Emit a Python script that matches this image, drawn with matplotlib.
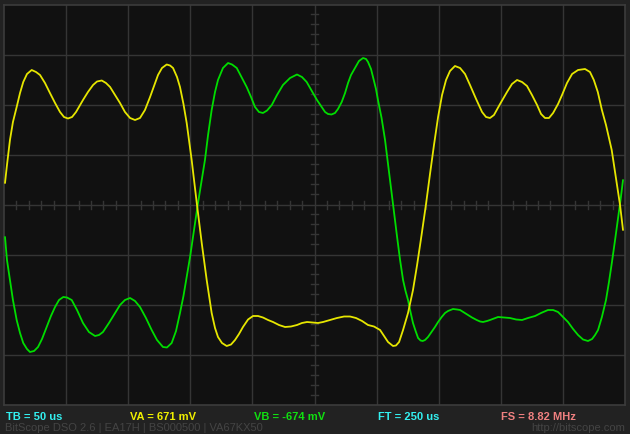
import matplotlib.pyplot as plt
import numpy as np

# ---- trace data (time in us, amplitude in divisions) ----
ya_t = [0.8, 2.4, 4.8, 7.2, 10.2, 12.9, 15.5, 18.5, 22.3, 25.8,
        29.0, 33.0, 37.0, 41.1, 45.1, 48.3, 51.5, 54.8, 58.0, 63.6,
        67.6, 71.7, 74.9, 78.7, 82.1, 85.4, 89.4, 93.4, 97.4, 101.5,
        105.5, 109.5, 113.5, 117.6, 120.8, 124.0, 127.2, 131.0, 133.7, 136.1,
        139.3, 141.7, 144.5, 147.1, 151.1, 155.2, 159.2, 163.2, 167.2, 169.9,
        172.3, 175.5, 179.3, 182.8, 186.0, 189.2, 192.4, 196.5, 200.5, 204.5,
        208.5, 212.6, 216.6, 221.4, 226.3, 231.1, 235.9, 239.9, 244.0, 248.0,
        252.8, 256.9, 262.5, 268.1, 273.8, 278.6, 283.4, 288.3, 293.1, 297.9,
        302.8, 306.0, 309.2, 313.2, 315.6, 318.1, 321.3, 325.3, 329.3, 332.6,
        336.2, 339.8, 343.0, 346.2, 349.5, 352.7, 355.9, 359.1, 363.1, 367.2,
        371.2, 375.2, 380.1, 384.9, 388.1, 391.3, 394.5, 399.4, 405.0, 409.0,
        413.1, 417.1, 421.1, 425.1, 429.2, 432.4, 435.6, 438.8, 442.1, 446.1,
        449.3, 453.3, 457.4, 462.2, 467.8, 471.8, 474.9, 478.1, 481.4, 484.7,
        487.1, 489.3, 492.7, 496.0, 498.4]
ya_v = [0.43, 0.79, 1.29, 1.65, 1.95, 2.23, 2.45, 2.61, 2.69, 2.65,
        2.59, 2.43, 2.23, 2.03, 1.85, 1.75, 1.72, 1.75, 1.85, 2.09,
        2.25, 2.39, 2.46, 2.48, 2.43, 2.35, 2.19, 2.03, 1.85, 1.73,
        1.69, 1.73, 1.89, 2.15, 2.37, 2.59, 2.73, 2.80, 2.78, 2.73,
        2.55, 2.35, 2.01, 1.63, 0.89, 0.03, -0.77, -1.51, -2.17, -2.47,
        -2.65, -2.77, -2.83, -2.80, -2.71, -2.59, -2.45, -2.30, -2.23, -2.23,
        -2.26, -2.31, -2.35, -2.41, -2.45, -2.44, -2.41, -2.37, -2.35, -2.36,
        -2.37, -2.35, -2.31, -2.27, -2.24, -2.24, -2.27, -2.33, -2.41, -2.44,
        -2.51, -2.63, -2.75, -2.83, -2.82, -2.75, -2.51, -2.17, -1.71, -1.21,
        -0.61, 0.01, 0.61, 1.19, 1.75, 2.19, 2.49, 2.67, 2.77, 2.73,
        2.61, 2.39, 2.11, 1.85, 1.75, 1.73, 1.79, 2.01, 2.25, 2.41,
        2.49, 2.45, 2.37, 2.19, 1.99, 1.81, 1.73, 1.73, 1.83, 2.01,
        2.19, 2.43, 2.61, 2.69, 2.71, 2.65, 2.49, 2.25, 1.89, 1.59,
        1.33, 1.09, 0.53, -0.01, -0.51]

yb_t = [0.8, 2.4, 4.8, 7.2, 10.2, 12.9, 15.5, 18.5, 20.9, 24.2,
        27.4, 30.6, 34.4, 37.8, 41.1, 44.3, 47.7, 50.7, 54.5, 58.8,
        63.6, 68.4, 73.3, 76.5, 79.7, 84.5, 89.4, 93.4, 97.4, 101.5,
        105.5, 109.5, 114.3, 118.9, 123.2, 128.0, 131.2, 135.0, 138.5, 141.7,
        144.5, 147.1, 149.8, 152.2, 156.2, 161.8, 164.3, 167.2, 169.9, 172.3,
        176.3, 180.4, 183.6, 187.4, 190.8, 195.4, 198.9, 202.1, 205.3, 208.5,
        211.8, 215.6, 219.8, 224.6, 230.3, 235.9, 239.9, 243.7, 248.8, 252.0,
        255.8, 258.5, 260.9, 263.7, 266.5, 268.9, 271.9, 274.6, 277.0, 279.4,
        282.6, 285.8, 289.1, 291.5, 293.1, 295.5, 297.1, 299.5, 301.1, 304.0,
        306.8, 310.0, 313.2, 316.4, 318.9, 321.3, 323.3, 325.3, 327.3, 329.3,
        331.4, 333.4, 335.4, 337.1, 339.0, 341.4, 344.2, 347.0, 349.5, 352.4,
        355.1, 357.5, 361.5, 364.8, 367.2, 370.4, 373.6, 376.8, 380.6, 383.3,
        385.7, 388.9, 391.3, 394.5, 397.8, 402.6, 407.4, 412.3, 417.1, 421.9,
        427.6, 432.4, 438.0, 442.1, 446.1, 450.1, 454.1, 458.2, 462.2, 466.2,
        470.2, 473.5, 475.9, 478.3, 481.4, 484.7, 487.1, 489.5, 492.0, 494.4,
        496.4, 498.4]
yb_v = [-0.65, -1.11, -1.51, -1.91, -2.31, -2.57, -2.77, -2.89, -2.95, -2.93,
        -2.85, -2.69, -2.45, -2.23, -2.05, -1.91, -1.85, -1.86, -1.91, -2.11,
        -2.37, -2.55, -2.63, -2.61, -2.55, -2.37, -2.17, -2.01, -1.91, -1.87,
        -1.93, -2.05, -2.27, -2.51, -2.71, -2.85, -2.86, -2.77, -2.53, -2.17,
        -1.83, -1.45, -1.05, -0.65, 0.03, 0.89, 1.39, 1.89, 2.25, 2.49,
        2.73, 2.83, 2.80, 2.73, 2.57, 2.35, 2.15, 1.95, 1.85, 1.83,
        1.88, 1.99, 2.19, 2.39, 2.53, 2.60, 2.55, 2.45, 2.23, 2.09,
        1.95, 1.85, 1.81, 1.80, 1.83, 1.91, 2.05, 2.23, 2.43, 2.59,
        2.73, 2.87, 2.93, 2.91, 2.85, 2.71, 2.55, 2.31, 2.09, 1.73,
        1.29, 0.65, 0.01, -0.63, -1.11, -1.51, -1.73, -1.91, -2.15, -2.37,
        -2.53, -2.67, -2.72, -2.73, -2.71, -2.65, -2.55, -2.45, -2.35, -2.25,
        -2.17, -2.13, -2.09, -2.10, -2.11, -2.16, -2.21, -2.26, -2.31, -2.34,
        -2.35, -2.33, -2.31, -2.28, -2.25, -2.26, -2.27, -2.30, -2.31, -2.27,
        -2.23, -2.17, -2.11, -2.11, -2.15, -2.25, -2.35, -2.49, -2.61, -2.70,
        -2.73, -2.69, -2.61, -2.51, -2.25, -1.91, -1.55, -1.15, -0.71, -0.27,
        0.09, 0.49]

status_labels = ['TB = 50 us', 'VA = 671 mV', 'VB = -674 mV', 'FT = 250 us', 'FS = 8.82 MHz']
status_colors = ['#33f0f0', '#f0f000', '#10e010', '#33f0f0', '#f08080']
footer_left = 'BitScope DSO 2.6 | EA17H | BS000500 | VA67KX50'
footer_right = 'http://bitscope.com'

W, H = 630, 434
fig = plt.figure(figsize=(W / 100, H / 100), dpi=100)
fig.patch.set_facecolor('#222222')

# plot area in pixels: x 4..625, y 4.5..404.5
ax = fig.add_axes([4 / W, 1 - 404.5 / H, 621 / W, 400 / H])
ax.set_facecolor('#111111')
ax.set_xlim(0, 500)
ax.set_ylim(-4, 4)
ax.set_xticks([])
ax.set_yticks([])
for s in ax.spines.values():
    s.set_color('#3c3c3c')
    s.set_linewidth(1.2)

grid_c = '#353535'
for gx in np.arange(50, 500, 50):
    ax.axvline(gx, color=grid_c, lw=1.0, zorder=1)
for gy in np.arange(-3, 4, 1):
    ax.axhline(gy, color=grid_c, lw=1.0, zorder=1)

# minor ticks on centre cross
for tx in np.arange(10, 500, 10):
    if tx % 50:
        ax.plot([tx, tx], [-0.08, 0.08], color=grid_c, lw=1.0, zorder=1)
for ty in np.arange(-3.8, 4.0, 0.2):
    if abs(ty - round(ty)) > 1e-6:
        ax.plot([250 - 3.2, 250 + 3.2], [ty, ty], color=grid_c, lw=1.0, zorder=1)

ax.plot(yb_t, yb_v, color='#00dd00', lw=1.3, zorder=3,
        solid_joinstyle='round', solid_capstyle='round')
ax.plot(ya_t, ya_v, color='#e6e600', lw=1.3, zorder=4,
        solid_joinstyle='round', solid_capstyle='round')

# status line
xs = [6, 130, 254, 378, 501]
for x, lab, c in zip(xs, status_labels, status_colors):
    fig.text(x / W, 1 - 419.5 / H, lab, color=c, fontsize=8, fontweight='bold',
             family='Liberation Sans', ha='left', va='baseline')
fig.text(5 / W, 1 - 431 / H, footer_left, color='#444444', fontsize=8,
         family='Liberation Sans', ha='left', va='baseline')
fig.text(625 / W, 1 - 431 / H, footer_right, color='#444444', fontsize=8,
         family='Liberation Sans', ha='right', va='baseline')

fig.savefig('out.png', dpi=100, facecolor=fig.get_facecolor())
